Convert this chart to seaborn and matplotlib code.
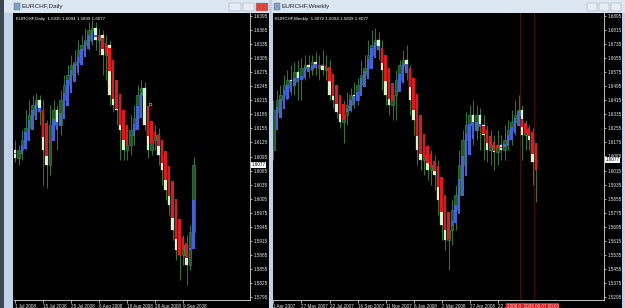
import numpy as np
import pandas as pd
import seaborn as sns
import matplotlib
matplotlib.use("Agg")
import matplotlib.pyplot as plt
from matplotlib.patches import Rectangle

# ---------------- data: EURCHF Daily ----------------
d_open = [1.6109, 1.6092, 1.6109, 1.6130, 1.6156, 1.6183, 1.6205, 1.6215, 1.6190, 1.6109,
          1.6077, 1.6162, 1.6194, 1.6162, 1.6215, 1.6247, 1.6269, 1.6290, 1.6296, 1.6322,
          1.6333, 1.6343, 1.6365, 1.6369, 1.6343, 1.6354, 1.6311, 1.6333, 1.6226, 1.6205,
          1.6194, 1.6151, 1.6109, 1.6120, 1.6151, 1.6177, 1.6226, 1.6241, 1.6162, 1.6109,
          1.6130, 1.6141, 1.6098, 1.6066, 1.6024, 1.5992, 1.5938, 1.5896, 1.5885, 1.5906,
          1.5864, 1.5935]
d_high = [1.6130, 1.6120, 1.6151, 1.6194, 1.6215, 1.6226, 1.6230, 1.6226, 1.6215, 1.6173,
          1.6205, 1.6215, 1.6205, 1.6237, 1.6269, 1.6290, 1.6311, 1.6322, 1.6343, 1.6354,
          1.6369, 1.6382, 1.6386, 1.6382, 1.6369, 1.6365, 1.6354, 1.6343, 1.6247, 1.6226,
          1.6215, 1.6173, 1.6151, 1.6183, 1.6205, 1.6247, 1.6258, 1.6254, 1.6194, 1.6162,
          1.6162, 1.6156, 1.6130, 1.6088, 1.6056, 1.6013, 1.5970, 1.5928, 1.5928, 1.5928,
          1.5949, 1.6094]
d_low = [1.6083, 1.6077, 1.6088, 1.6109, 1.6141, 1.6162, 1.6183, 1.6162, 1.6034, 1.6028,
         1.6056, 1.6130, 1.6109, 1.6141, 1.6194, 1.6226, 1.6247, 1.6258, 1.6269, 1.6290,
         1.6311, 1.6322, 1.6333, 1.6322, 1.6311, 1.6269, 1.6258, 1.6205, 1.6190, 1.6162,
         1.6088, 1.6088, 1.6088, 1.6098, 1.6120, 1.6162, 1.6194, 1.6151, 1.6092, 1.6098,
         1.6109, 1.6077, 1.6034, 1.6002, 1.5970, 1.5917, 1.5874, 1.5832, 1.5864, 1.5821,
         1.5853, 1.5899]
d_close = [1.6092, 1.6109, 1.6130, 1.6156, 1.6183, 1.6205, 1.6215, 1.6190, 1.6109, 1.6077,
           1.6162, 1.6194, 1.6162, 1.6215, 1.6247, 1.6269, 1.6290, 1.6296, 1.6322, 1.6333,
           1.6343, 1.6365, 1.6369, 1.6343, 1.6354, 1.6311, 1.6333, 1.6226, 1.6205, 1.6194,
           1.6151, 1.6109, 1.6120, 1.6151, 1.6177, 1.6226, 1.6241, 1.6162, 1.6109, 1.6130,
           1.6141, 1.6098, 1.6066, 1.6024, 1.5992, 1.5938, 1.5896, 1.5885, 1.5906, 1.5864,
           1.5935, 1.6077]
d_date_labels = ["1 Jul 2008", "15 Jul 2008", "25 Jul 2008", "6 Aug 2008",
                 "18 Aug 2008", "28 Aug 2008", "9 Sep 2008"]
d_date_bars = [0, 8, 16, 24, 32, 40, 48]
d_price_labels = ["1.5795", "1.5825", "1.5855", "1.5885", "1.5915", "1.5945", "1.5975",
                  "1.6005", "1.6035", "1.6065", "1.6095", "1.6125", "1.6155", "1.6185",
                  "1.6215", "1.6245", "1.6275", "1.6305", "1.6335", "1.6365", "1.6395"]

# ---------------- data: EURCHF Weekly ----------------
w_open = [1.6132, 1.6348, 1.6416, 1.6444, 1.6484, 1.6530, 1.6518, 1.6575, 1.6541, 1.6598,
          1.6615, 1.6586, 1.6632, 1.6598, 1.6615, 1.6586, 1.6598, 1.6444, 1.6416, 1.6348,
          1.6291, 1.6331, 1.6388, 1.6444, 1.6416, 1.6501, 1.6558, 1.6598, 1.6672, 1.6729,
          1.6757, 1.6700, 1.6586, 1.6444, 1.6388, 1.6444, 1.6530, 1.6615, 1.6643, 1.6586,
          1.6416, 1.6302, 1.6132, 1.6075, 1.6104, 1.6018, 1.6047, 1.5990, 1.5848, 1.5706,
          1.5621, 1.5677, 1.5791, 1.5876, 1.6047, 1.6189, 1.6274, 1.6331, 1.6246, 1.6331,
          1.6274, 1.6217, 1.6132, 1.6160, 1.6121, 1.6160, 1.6132, 1.6189, 1.6246, 1.6291,
          1.6331, 1.6359, 1.6217, 1.6246, 1.6189, 1.6072]
w_high = [1.6416, 1.6473, 1.6501, 1.6558, 1.6586, 1.6615, 1.6632, 1.6643, 1.6655, 1.6672,
          1.6672, 1.6672, 1.6689, 1.6672, 1.6700, 1.6672, 1.6643, 1.6530, 1.6484, 1.6444,
          1.6416, 1.6461, 1.6484, 1.6518, 1.6541, 1.6643, 1.6672, 1.6757, 1.6814, 1.6825,
          1.6802, 1.6757, 1.6672, 1.6530, 1.6501, 1.6586, 1.6643, 1.6700, 1.6729, 1.6615,
          1.6501, 1.6359, 1.6217, 1.6189, 1.6160, 1.6132, 1.6104, 1.6075, 1.5933, 1.5819,
          1.5763, 1.5848, 1.5933, 1.6132, 1.6246, 1.6348, 1.6388, 1.6416, 1.6388, 1.6371,
          1.6331, 1.6274, 1.6246, 1.6217, 1.6246, 1.6217, 1.6274, 1.6302, 1.6359, 1.6416,
          1.6444, 1.6388, 1.6302, 1.6274, 1.6257, 1.6094]
w_low = [1.6075, 1.6274, 1.6331, 1.6388, 1.6416, 1.6444, 1.6444, 1.6416, 1.6416, 1.6530,
         1.6541, 1.6558, 1.6558, 1.6530, 1.6558, 1.6530, 1.6416, 1.6371, 1.6314, 1.6257,
         1.6172, 1.6274, 1.6348, 1.6371, 1.6388, 1.6473, 1.6501, 1.6575, 1.6632, 1.6672,
         1.6643, 1.6473, 1.6388, 1.6331, 1.6302, 1.6302, 1.6473, 1.6558, 1.6530, 1.6331,
         1.6217, 1.6047, 1.6018, 1.5990, 1.5961, 1.5933, 1.5905, 1.5763, 1.5621, 1.5564,
         1.5450, 1.5592, 1.5677, 1.5819, 1.5905, 1.6075, 1.6132, 1.6160, 1.6189, 1.6132,
         1.6075, 1.6064, 1.6047, 1.6018, 1.6047, 1.6075, 1.6075, 1.6132, 1.6160, 1.6217,
         1.6274, 1.6075, 1.6132, 1.6132, 1.5933, 1.5839]
w_close = [1.6359, 1.6416, 1.6444, 1.6501, 1.6530, 1.6518, 1.6575, 1.6541, 1.6598, 1.6615,
           1.6586, 1.6632, 1.6598, 1.6615, 1.6586, 1.6598, 1.6444, 1.6416, 1.6348, 1.6291,
           1.6331, 1.6388, 1.6444, 1.6416, 1.6501, 1.6558, 1.6598, 1.6672, 1.6729, 1.6757,
           1.6700, 1.6586, 1.6444, 1.6388, 1.6444, 1.6530, 1.6615, 1.6643, 1.6586, 1.6416,
           1.6302, 1.6132, 1.6075, 1.6104, 1.6018, 1.6047, 1.5990, 1.5848, 1.5706, 1.5621,
           1.5677, 1.5791, 1.5876, 1.6047, 1.6189, 1.6274, 1.6331, 1.6246, 1.6331, 1.6274,
           1.6217, 1.6132, 1.6160, 1.6121, 1.6160, 1.6132, 1.6189, 1.6246, 1.6291, 1.6331,
           1.6359, 1.6217, 1.6246, 1.6189, 1.6064, 1.6077]
w_date_labels = ["1 Apr 2007", "27 May 2007", "22 Jul 2007", "16 Sep 2007", "11 Nov 2007",
                 "6 Jan 2008", "2 Mar 2008", "27 Apr 2008", "22 Jun 2008"]
w_date_bars = [0, 8, 16, 24, 32, 40, 48, 56, 64]
w_price_labels = ["1.5295", "1.5375", "1.5455", "1.5535", "1.5615", "1.5695", "1.5775",
                  "1.5855", "1.5935", "1.6015", "1.6095", "1.6175", "1.6255", "1.6335",
                  "1.6415", "1.6495", "1.6575", "1.6655", "1.6735", "1.6815", "1.6895"]
w_separators = [70.5, 74.5]

# ---------------- style ----------------
sns.set_theme(style="ticks", rc={"axes.facecolor": "black", "figure.facecolor": "#bfd2e6"})
plt.rcParams["font.family"] = ["Liberation Sans", "DejaVu Sans"]

W, H = 625, 308
fig = plt.figure(figsize=(W / 100, H / 100), dpi=100)


def prect(x0, y0, x1, y1, color, z=-5, **kw):
    fig.patches.append(Rectangle((x0 / W, 1 - y1 / H), (x1 - x0) / W, (y1 - y0) / H,
                                 transform=fig.transFigure, facecolor=color,
                                 edgecolor=kw.pop("ec", "none"), lw=kw.pop("lw", 0),
                                 zorder=z, **kw))


def ptext(x, y, s, **kw):
    fig.text(x / W, 1 - y / H, s, **kw)


# window chrome
prect(0, 0, 4, H, "#3d4652")
prect(4, 0, 269, 13, "#dde7f2")
prect(272, 0, W, 13, "#dde7f2")
prect(13, 13, 269, H, "black")
prect(273, 13, 622, H, "black")
for x0 in (14, 274):
    prect(x0, 3, x0 + 6, 10, "#7da3c8", ec="#4a6f96", lw=0.3)
ptext(22, 6.8, "EURCHF,Daily", fontsize=4.6, color="#1c2430", va="center")
ptext(282, 6.8, "EURCHF,Weekly", fontsize=4.6, color="#1c2430", va="center")
for (x0, x1, c) in [(229, 241, "#e6edf5"), (243, 254, "#e6edf5"), (256, 268, "#d9483b"),
                    (587, 597, "#e6edf5"), (599, 609, "#e6edf5"), (611, 621, "#e6edf5")]:
    prect(x0, 3, x1, 11, c, ec="#8a9bb0", lw=0.3)


def heikin(o, h, l, c):
    hc = (o + h + l + c) / 4.0
    ho = np.empty_like(hc)
    ho[0] = (o[0] + c[0]) / 2.0
    for i in range(1, len(hc)):
        ho[i] = (ho[i - 1] + hc[i - 1]) / 2.0
    return ho, hc


def draw(ax, o, h, l, c):
    df = pd.DataFrame({"open": o, "high": h, "low": l, "close": c})
    x = np.arange(len(df))
    ax.vlines(x, df["low"], df["high"], color="#2f7a34", lw=0.7, zorder=2)
    bull = (df["close"] >= df["open"]).values
    body = (df["close"] - df["open"]).values
    w = 0.74
    ax.bar(x[bull], body[bull], bottom=df["open"].values[bull], width=w,
           color="#1f5a27", edgecolor="#3f9a47", lw=0.4, zorder=3)
    ax.bar(x[~bull], body[~bull], bottom=df["open"].values[~bull], width=w,
           color="#d6f3cf", edgecolor="#d6f3cf", lw=0.2, zorder=3)
    ho, hc = heikin(df["open"].values, df["high"].values, df["low"].values, df["close"].values)
    up = hc >= ho
    ax.bar(x[up], (hc - ho)[up], bottom=ho[up], width=w, color="#3f63dd", lw=0, zorder=4)
    ax.bar(x[~up], (hc - ho)[~up], bottom=ho[~up], width=w, color="#e8161b", lw=0, zorder=4)


def style(ax, ylim, xlim, price_labels, date_bars, date_labels, last):
    ax.set_facecolor("black")
    ax.set_ylim(*ylim)
    ax.set_xlim(*xlim)
    for s in ("top", "left"):
        ax.spines[s].set_visible(False)
    for s in ("right", "bottom"):
        ax.spines[s].set_color("#d8d8d8")
        ax.spines[s].set_linewidth(0.6)
    ax.yaxis.tick_right()
    ax.set_yticks([float(v) for v in price_labels])
    ax.set_yticklabels(price_labels)
    ax.set_xticks(date_bars)
    ax.set_xticklabels(date_labels, ha="left")
    ax.tick_params(axis="y", colors="#e8e8e8", labelsize=3.3, length=1.5, width=0.5, pad=1.2)
    ax.tick_params(axis="x", colors="#e8e8e8", labelsize=3.3, length=2, width=0.5, pad=0.8)
    ax.annotate(f"{last:.4f}", xy=(1, last), xycoords=("axes fraction", "data"),
                xytext=(1.2, 0), textcoords="offset points", fontsize=3.3, color="black",
                va="center", ha="left", zorder=10,
                bbox=dict(boxstyle="square,pad=0.12", fc="white", ec="white", lw=0))


# left chart
axL = fig.add_axes([14 / W, 1 - 300 / H, (250 - 14) / W, (300 - 13) / H])
draw(axL, d_open, d_high, d_low, d_close)
style(axL, (1.57892, 1.64008), (-0.29, 67.1), d_price_labels, d_date_bars, d_date_labels, d_close[-1])
axL.text(0.008, 0.985, "EURCHF,Daily  1.5935 1.6094 1.5899 1.6077", transform=axL.transAxes,
         fontsize=3.2, color="white", va="top", ha="left")
axL.plot([38.5], [1.6207], marker="o", ms=2, mfc="none", mec="#d8b040", mew=0.5, zorder=5)

# right chart
axR = fig.add_axes([273 / W, 1 - 300 / H, (604 - 273) / W, (300 - 13) / H])
draw(axR, w_open, w_high, w_low, w_close)
style(axR, (1.52796, 1.69103), (-0.14, 94.4), w_price_labels, w_date_bars, w_date_labels, w_close[-1])
for xs in w_separators:
    axR.axvline(xs, color="#b01818", lw=0.6, ls=(0, (1.2, 1.2)), zorder=1)
axR.text(0.006, 0.985, "EURCHF,Weekly  1.6072 1.6094 1.5839 1.6077", transform=axR.transAxes,
         fontsize=3.2, color="white", va="top", ha="left")
axR.annotate("2008.0  2008.09.07 00:00", xy=(66.6, 0), xycoords=("data", "axes fraction"),
             xytext=(0, -4.6), textcoords="offset points", fontsize=3.3, color="#ffd0d0",
             va="center", ha="left", zorder=10,
             bbox=dict(boxstyle="square,pad=0.15", fc="#e01a1a", ec="none"))

fig.savefig("out.png", dpi=100, facecolor=fig.get_facecolor())
